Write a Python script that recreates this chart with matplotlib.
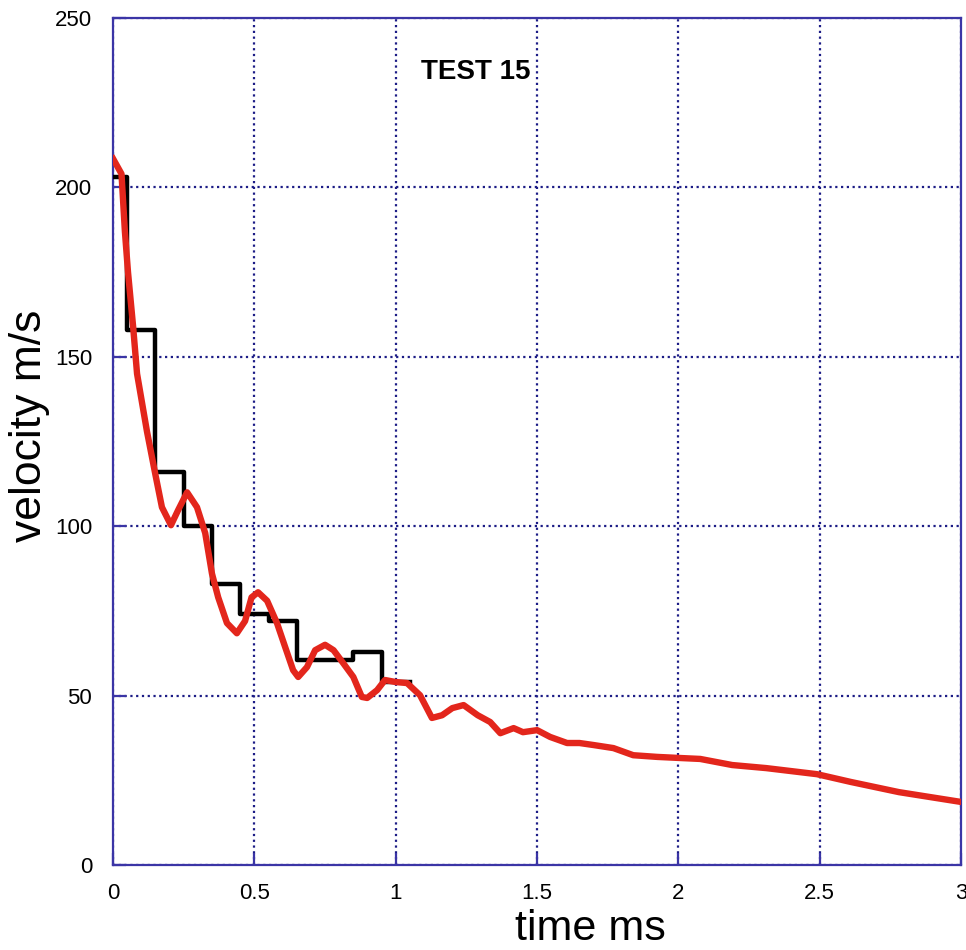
# -*- coding: UTF-8 -*-

"""Velocity decay for test 15: measured trace vs. binned step estimate
"""

#+++++++++++++++++++++++++++++++++++++++++++++++++++++++++++++++++++++++++++++#

import numpy as np
import matplotlib
matplotlib.use('Agg')
import matplotlib.pyplot as plt

plt.rcParams['font.family'] = ['Liberation Sans', 'DejaVu Sans']

#+++++++++++++++++++++++++++++++++++++++++++++++++++++++++++++++++++++++++++++#

# continuous velocity trace (ms, m/s)
TIME = [
  0.0, 0.03, 0.042, 0.053, 0.071, 0.085, 0.12, 0.149, 0.173, 0.205,
  0.23, 0.262, 0.297, 0.326, 0.35, 0.372, 0.403, 0.438, 0.467, 0.49,
  0.513, 0.545, 0.58, 0.609, 0.637, 0.655, 0.686, 0.715, 0.75, 0.78,
  0.814, 0.85, 0.88, 0.899, 0.934, 0.962, 1.0, 1.04, 1.086, 1.128,
  1.164, 1.2, 1.24, 1.29, 1.334, 1.37, 1.417, 1.45, 1.5, 1.546,
  1.606, 1.65, 1.7, 1.77, 1.84, 1.925, 2.0, 2.077, 2.19, 2.31,
  2.49, 2.61, 2.78, 3.0 ]

VELOCITY = [
  208.5, 204.0, 187.0, 175.0, 159.0, 145.0, 128.0, 115.6, 105.6, 100.3,
  104.7, 110.0, 105.6, 98.0, 86.0, 79.0, 71.4, 68.4, 72.0, 79.0,
  80.5, 78.0, 71.4, 64.3, 57.5, 55.5, 58.4, 63.4, 65.0, 63.4,
  59.6, 55.5, 49.6, 49.3, 51.6, 54.6, 54.0, 53.7, 50.1, 43.4,
  44.2, 46.3, 47.2, 44.2, 42.2, 38.9, 40.4, 39.2, 39.8, 37.8,
  36.0, 36.0, 35.4, 34.5, 32.4, 31.9, 31.6, 31.3, 29.5, 28.6,
  26.8, 24.5, 21.5, 18.6 ]

# binned (step) velocity estimate
BIN_EDGES = [ 0.0, 0.05, 0.15, 0.25, 0.35, 0.45, 0.55, 0.65, 0.75, 0.85, 0.95, 1.05 ]
BIN_VELOCITY = [ 203, 158, 116, 100, 83, 74, 72, 60.5, 60.5, 63, 54 ]

FRAME = '#3b35a6'
GRID = '#1c1c86'

#+++++++++++++++++++++++++++++++++++++++++++++++++++++++++++++++++++++++++++++#

if __name__ == '__main__':

  fig = plt.figure(figsize = (9.66, 9.5), dpi = 100)
  ax = fig.add_axes([0.117, 0.0895, 0.878, 0.8915])

  # step estimate, held over each bin
  ax.step(
    BIN_EDGES,
    BIN_VELOCITY + [BIN_VELOCITY[-1]],
    where = 'post',
    color = 'k',
    lw = 3.2,
    zorder = 3)

  ax.plot(
    TIME,
    VELOCITY,
    color = '#e3261c',
    lw = 4.6,
    solid_joinstyle = 'round',
    zorder = 4)

  ax.set_xlim(0, 3)
  ax.set_ylim(0, 250)
  ax.set_xticks(np.arange(0, 3.01, 0.5))
  ax.set_xticklabels(['0', '0.5', '1', '1.5', '2', '2.5', '3'])
  ax.set_yticks(np.arange(0, 251, 50))

  ax.grid(True, color = GRID, linestyle = (0, (1, 1.6)), lw = 1.6)
  ax.set_axisbelow(True)

  for side in ax.spines.values():
    side.set_color(FRAME)
    side.set_linewidth(1.6)

  ax.tick_params(
    direction = 'in',
    length = 9,
    width = 1.6,
    color = FRAME,
    labelsize = 16,
    top = False,
    right = False)
  ax.tick_params(axis = 'x', pad = 13)
  ax.tick_params(axis = 'y', pad = 15)

  ax.set_xlabel('time ms', fontsize = 31)
  ax.xaxis.set_label_coords(0.5625, -0.052)
  ax.set_ylabel('velocity m/s', fontsize = 32)
  ax.yaxis.set_label_coords(-0.074, 0.519)

  ax.text(
    0.428, 0.936, 'TEST 15',
    transform = ax.transAxes,
    ha = 'center',
    va = 'center',
    fontsize = 20,
    fontweight = 'bold')

  plt.savefig('out.png', dpi = 100)
  plt.close()
